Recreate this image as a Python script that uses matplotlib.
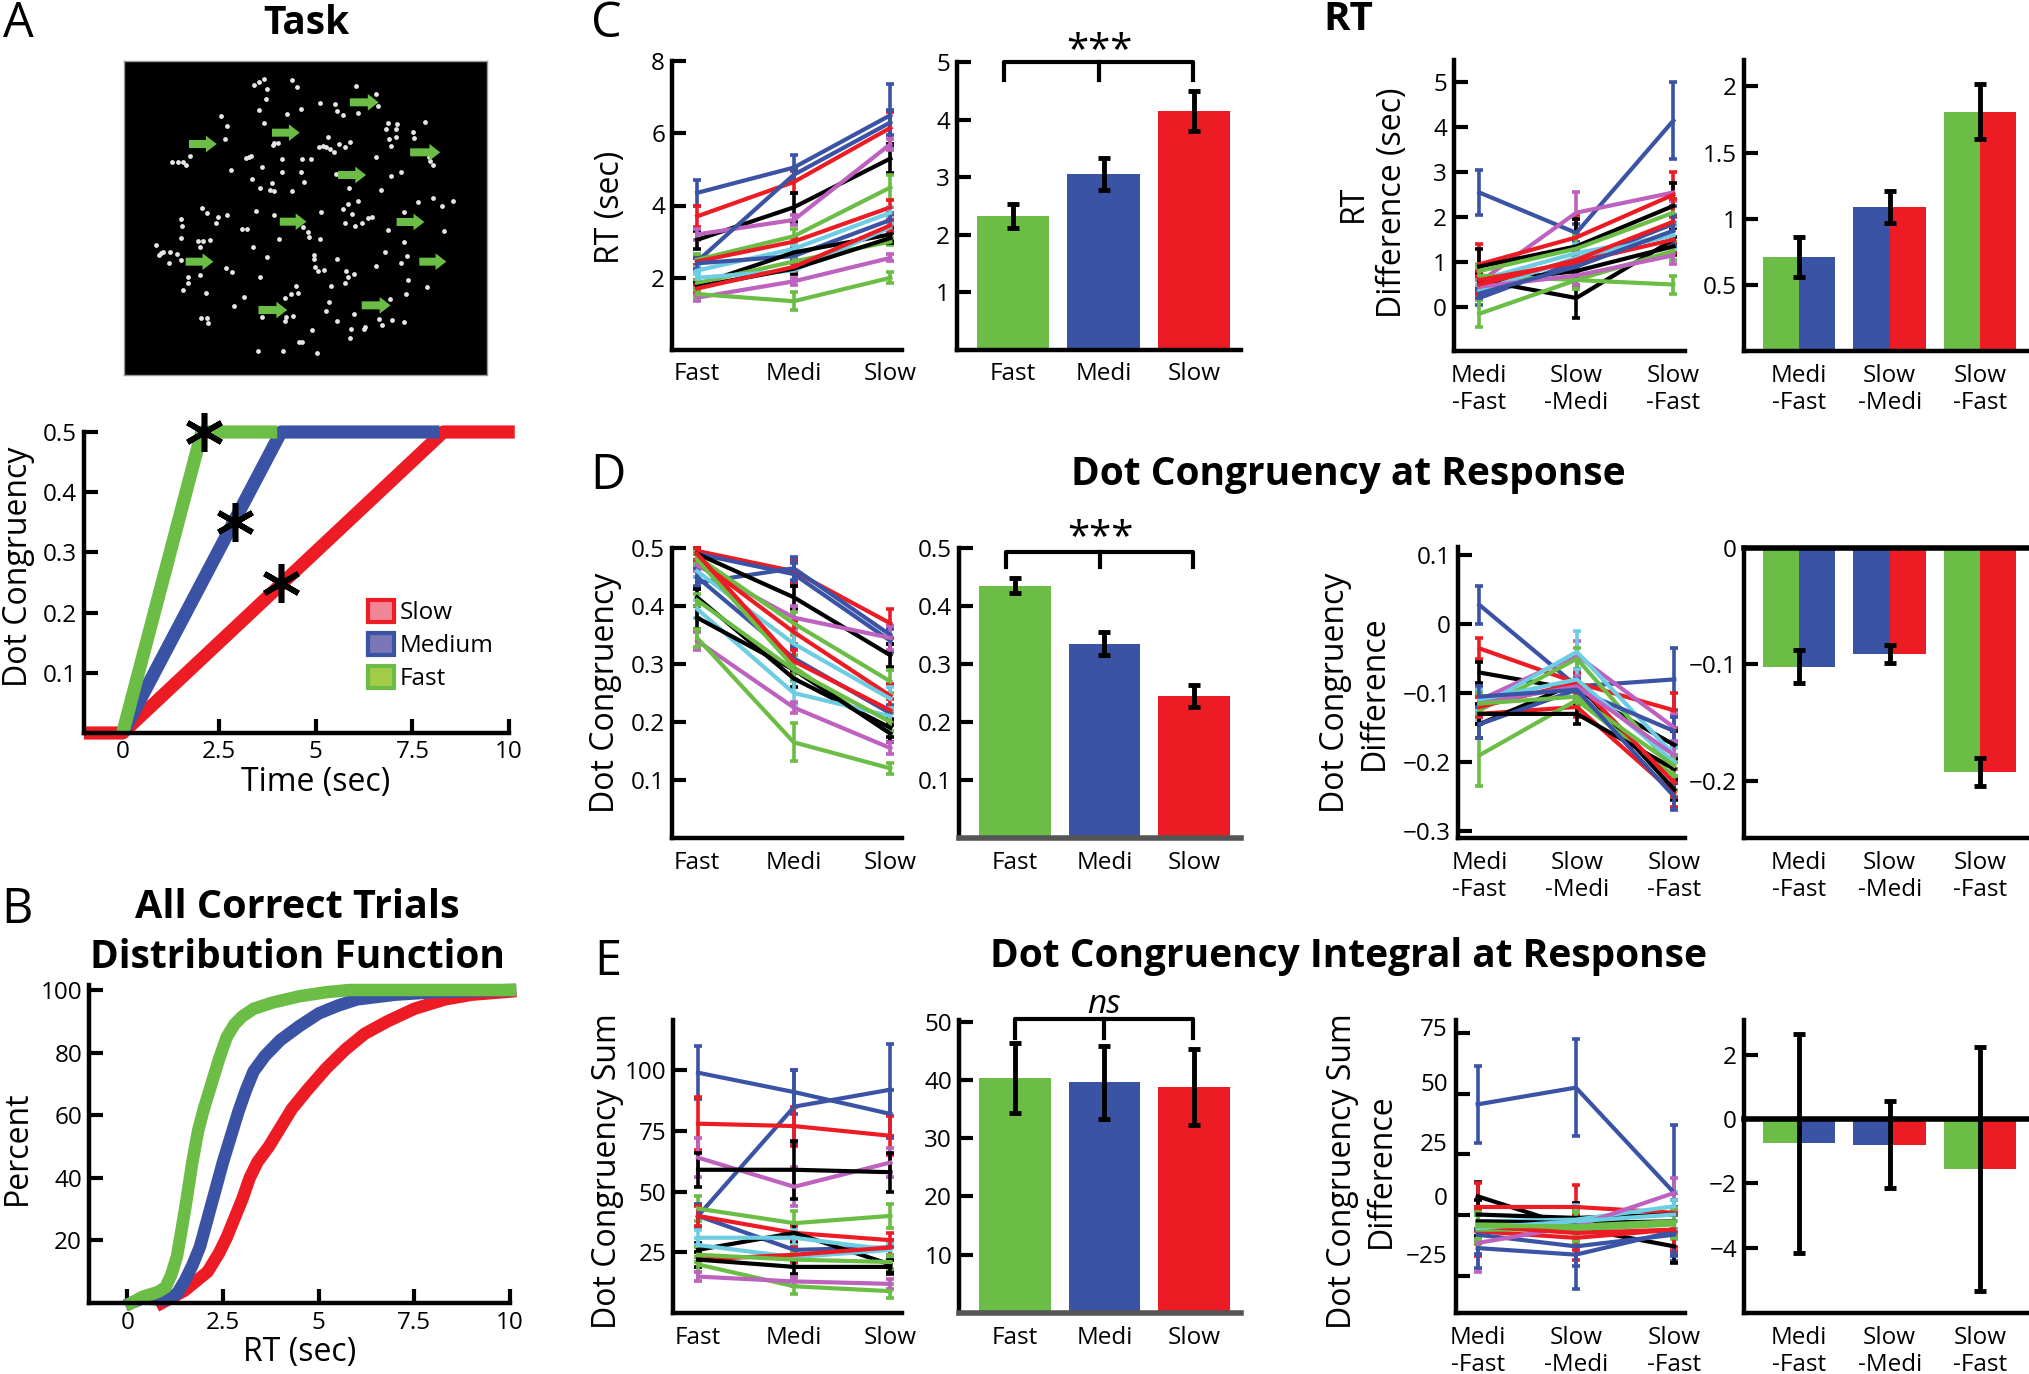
import numpy as np
import matplotlib.pyplot as plt
from matplotlib.patches import Patch

plt.rcParams['font.family'] = ['Open Sans', 'DejaVu Sans']

W, H = 2029, 1374

# === COLORES ===
GREEN = '#6bbd45'
BLUE = '#3a53a4'
RED = '#ed1c24'
MAG = '#bd62be'
CYAN = '#6dcde3'
BLACK = '#000000'
cmap = {'g': GREEN, 'b': BLUE, 'r': RED, 'm': MAG, 'c': CYAN, 'k': BLACK}

# === DATOS ===
cond_labels = ['Fast', 'Medi', 'Slow']
diff_labels = ['Medi\n-Fast', 'Slow\n-Medi', 'Slow\n-Fast']

# task picture (image coordinates)
dot_x = [752, 768, 780, 790, 865, 880, 787, 1052, 1113, 1117, 946, 991, 998, 1014, 1058, 890, 766, 850, 780, 654,
         672, 667, 1149, 1173, 1141, 1170, 1150, 1172, 1157, 1222, 1223, 1256, 971, 1003, 1034, 1021, 945, 956, 965,
         975, 987, 811, 808, 822, 736, 742, 728, 563, 510, 527, 541, 552, 836, 894, 920, 1112, 1268, 1272, 1280, 685,
         776, 835, 890, 993, 1185, 1157, 745, 805, 900, 771, 798, 812, 863, 1032, 1126, 1280, 1235, 1307, 1340, 1058,
         1030, 1016, 1042, 1194, 1148, 1313, 597, 614, 647, 671, 639, 536, 540, 537, 757, 810, 949, 1022, 1049, 1072,
         1088, 1101, 716, 730, 896, 910, 915, 946, 826, 588, 600, 623, 462, 478, 484, 505, 525, 472, 500, 537, 592,
         748, 1196, 1138, 1203, 1185, 790, 930, 928, 932, 940, 958, 998, 1113, 670, 688, 558, 591, 770, 1025, 1048,
         1030, 1022, 542, 557, 609, 722, 877, 860, 882, 842, 980, 1207, 1200, 1262, 694, 973, 965, 1048, 1153, 777,
         845, 867, 842, 594, 614, 616, 996, 1037, 1080, 1077, 1122, 1130, 1160, 1194, 924, 1034, 885, 895, 764, 838,
         938]
dot_y = [256, 247, 238, 267, 240, 262, 296, 257, 283, 318, 310, 313, 332, 346, 340, 328, 329, 342, 368, 348,
         378, 418, 368, 371, 387, 387, 418, 412, 438, 396, 415, 367, 411, 432, 425, 441, 440, 437, 440,
         446, 456, 430, 435, 428, 470, 468, 475, 468, 487, 487, 487, 494, 478, 478, 478, 472, 470, 483, 494, 510,
         500, 515, 517, 523, 516, 528, 537, 550, 546, 563, 571, 573, 573, 565, 570, 593, 607, 617, 603, 603,
         612, 626, 642, 637, 690, 692, 625, 640, 650, 644, 670, 656, 678, 713, 632, 645, 635, 670, 678, 670,
         655, 650, 686, 686, 681, 695, 710, 717, 718, 722, 722, 720, 736, 760, 755, 755, 762, 765, 789, 780, 742,
         742, 727, 757, 769, 788, 770, 766, 776, 800, 812, 810, 778, 797, 803, 815, 830, 825, 830, 812, 822,
         832, 848, 871, 850, 880, 891, 858, 882, 880, 895, 858, 840, 882, 860, 917, 905, 932, 941, 898, 951,
         950, 948, 962, 955, 955, 968, 962, 988, 980, 988, 958, 975, 960, 967, 990, 1015, 1027, 1027, 1052, 1053,
         1058]
arrow_x = [560, 805, 1035, 1213, 1000, 828, 1173, 550, 1240, 765, 1070]
arrow_y = [432, 398, 307, 457, 525, 665, 666, 785, 785, 930, 916]
arrow_len = [82, 82, 85, 89, 83, 79, 82, 82, 80, 85, 85]

# dot congruency over time
slow_t = [-1, 0, 8.3, 10.15]
slow_c = [0, 0, 0.5, 0.5]
med_t = [0, 4.1, 8.2]
med_c = [0, 0.5, 0.5]
fast_t = [0, 2.05, 4.0]
fast_c = [0, 0.5, 0.5]
star_t = [2.1, 2.9, 4.1]
star_c = [0.5, 0.35, 0.25]

# cumulative distribution of RT
cdf_fast_x = [0.1, 0.4, 0.8, 1.0, 1.15, 1.3, 1.4, 1.55, 1.7, 1.85, 2.0, 2.2, 2.4, 2.6, 2.8, 3.0, 3.3, 3.8, 4.5, 5.2, 5.8, 10]
cdf_fast_y = [0, 2, 3.5, 5, 9, 15, 22, 33, 45, 55, 62, 70, 78, 85, 89, 91.5, 94, 96, 98, 99.3, 100, 100]
cdf_med_x = [0.1, 0.4, 1.0, 1.3, 1.5, 1.7, 1.9, 2.1, 2.3, 2.5, 2.7, 2.9, 3.1, 3.3, 3.6, 4.0, 4.5, 5.0, 5.5, 6.0, 7.0, 8.0, 10]
cdf_med_y = [0, 1.5, 1, 3, 7, 12, 18, 27, 36, 45, 53, 61, 68, 74, 79, 84, 88.5, 92.5, 95, 97, 98.5, 99.3, 100]
cdf_slow_x = [0.9, 1.2, 1.5, 1.8, 2.1, 2.4, 2.6, 2.8, 3.0, 3.2, 3.4, 3.7, 4.0, 4.3, 4.7, 5.2, 5.7, 6.2, 6.8, 7.5, 8.3, 9.0, 10]
cdf_slow_y = [0, 2, 4, 7, 10, 16, 21, 27, 33, 40, 45, 50, 56, 62, 68, 75, 81, 86, 90, 94, 97, 98.5, 99.5]

# RT por sujeto
rt_cols = 'brkmbgrcbkgckrmg'
rt_vals = [[4.35, 5.05, 6.5], [3.7, 4.65, 6.15], [3.05, 3.95, 5.3], [3.2, 3.6, 5.7], [2.45, 4.85, 6.3],
           [2.5, 3.15, 4.5], [2.45, 3.0, 3.95], [2.2, 2.8, 3.8], [2.4, 2.6, 3.6], [1.8, 2.7, 3.2],
           [1.85, 2.45, 3.0], [2.0, 2.2, 3.4], [1.75, 2.25, 3.1], [1.7, 2.3, 3.45], [1.45, 1.9, 2.55],
           [1.55, 1.35, 2.0]]
rt_err = [[0.35, 0.35, 0.85], [0.3, 0.3, 0.45], [0.25, 0.4, 0.4], [0.15, 0.15, 0.15], [0.15, 0.15, 0.35],
          [0.15, 0.2, 0.35], [0.1, 0.1, 0.2], [0.1, 0.1, 0.15], [0.15, 0.1, 0.2], [0.15, 0.1, 0.15],
          [0.1, 0.15, 0.1], [0.15, 0.1, 0.1], [0.1, 0.15, 0.15], [0.1, 0.1, 0.15], [0.08, 0.1, 0.1],
          [0.1, 0.25, 0.15]]
rt_mean = [2.33, 3.05, 4.15]
rt_sem = [0.21, 0.28, 0.35]

rtd_cols = 'bmrkgcbkkggrcmrb'
rtd_vals = [[2.55, 1.65, 4.15], [0.55, 2.1, 2.55], [0.95, 1.55, 2.5], [0.9, 1.35, 2.25], [0.8, 1.3, 2.1],
            [0.6, 1.2, 1.6], [0.2, 1.0, 1.85], [0.55, 0.8, 1.35], [0.6, 0.2, 1.5], [-0.15, 0.6, 1.25],
            [0.7, 0.6, 0.5], [0.6, 1.0, 1.5], [0.35, 1.1, 1.6], [0.45, 0.7, 1.15], [0.5, 1.05, 1.9],
            [0.3, 0.9, 1.7]]
rtd_err = [[0.5, 0.2, 0.85], [0.2, 0.45, 0.2], [0.45, 0.5, 0.5], [0.4, 0.6, 0.5], [0.15, 0.3, 0.3],
           [0.2, 0.2, 0.3], [0.15, 0.2, 0.4], [0.15, 0.3, 0.2], [0.15, 0.45, 0.3], [0.3, 0.2, 0.2],
           [0.2, 0.2, 0.2], [0.2, 0.2, 0.3], [0.15, 0.2, 0.2], [0.15, 0.2, 0.2], [0.2, 0.25, 0.5],
           [0.1, 0.2, 0.35]]
rtd_mean = [0.71, 1.09, 1.81]
rtd_sem = [0.15, 0.12, 0.21]

# dot congruency at response
dc_cols = 'rbbkmgrcbgrkckmgg'
dc_vals = [[0.495, 0.46, 0.37], [0.44, 0.465, 0.35], [0.49, 0.455, 0.34], [0.49, 0.415, 0.315],
           [0.47, 0.38, 0.345], [0.485, 0.37, 0.27], [0.48, 0.355, 0.245], [0.46, 0.335, 0.24],
           [0.45, 0.31, 0.215], [0.48, 0.295, 0.18], [0.49, 0.305, 0.22], [0.415, 0.275, 0.19],
           [0.395, 0.25, 0.21], [0.38, 0.29, 0.18], [0.34, 0.225, 0.155], [0.345, 0.165, 0.12],
           [0.41, 0.29, 0.2]]
dc_err = [[0.005, 0.02, 0.025], [0.01, 0.02, 0.015], [0.01, 0.02, 0.02], [0.01, 0.02, 0.02],
          [0.01, 0.02, 0.02], [0.01, 0.02, 0.02], [0.01, 0.02, 0.02], [0.01, 0.02, 0.02],
          [0.015, 0.02, 0.015], [0.01, 0.02, 0.015], [0.01, 0.02, 0.02], [0.015, 0.015, 0.015],
          [0.015, 0.02, 0.015], [0.02, 0.015, 0.015], [0.015, 0.01, 0.01], [0.015, 0.033, 0.01],
          [0.01, 0.015, 0.015]]
dc_mean = [0.435, 0.335, 0.245]
dc_sem = [0.013, 0.02, 0.019]

dcd_cols = 'brkmcgrkgbkrcmgb'
dcd_vals = [[0.028, -0.09, -0.08], [-0.035, -0.085, -0.125], [-0.07, -0.095, -0.175], [-0.11, -0.045, -0.15],
            [-0.12, -0.04, -0.19], [-0.125, -0.05, -0.21], [-0.13, -0.12, -0.245], [-0.145, -0.085, -0.24],
            [-0.19, -0.11, -0.22], [-0.145, -0.095, -0.155], [-0.13, -0.13, -0.21], [-0.12, -0.085, -0.23],
            [-0.11, -0.08, -0.2], [-0.115, -0.09, -0.19], [-0.115, -0.105, -0.205], [-0.105, -0.095, -0.25]]
dcd_err = [[0.028, 0.02, 0.045], [0.015, 0.02, 0.025], [0.015, 0.02, 0.02], [0.015, 0.02, 0.02],
           [0.02, 0.03, 0.02], [0.02, 0.015, 0.02], [0.015, 0.015, 0.02], [0.02, 0.02, 0.015],
           [0.045, 0.02, 0.02], [0.02, 0.02, 0.02], [0.015, 0.015, 0.02], [0.015, 0.015, 0.02],
           [0.015, 0.015, 0.02], [0.015, 0.015, 0.02], [0.015, 0.015, 0.015], [0.015, 0.015, 0.02]]
dcd_mean = [-0.102, -0.091, -0.192]
dcd_sem = [0.014, 0.008, 0.012]

# dot congruency integral at response
ds_cols = 'bbrmkgbrkccrgkgm'
ds_vals = [[99, 91, 82], [40, 85, 92], [78, 77, 73], [64, 52, 62], [59, 59, 58], [43, 37, 40], [40, 26, 27],
           [40, 33, 30], [26, 33, 20], [31, 31, 26], [28, 23, 26], [22, 24, 27], [24, 22, 21], [22, 19, 19],
           [20, 11, 9], [15, 13, 12]]
ds_err = [[11, 9, 10], [5, 15, 19], [11, 8, 8], [8, 8, 6], [7, 12, 8], [5, 5, 5], [5, 3, 3], [4, 3, 3],
          [3, 4, 3], [3, 3, 3], [3, 3, 3], [3, 3, 3], [3, 3, 3], [3, 3, 3], [3, 3, 3], [2, 2, 2]]
ds_mean = [40.4, 39.6, 38.8]
ds_sem = [6.0, 6.3, 6.5]

dsd_cols = 'bkrkckgrbmbgrcg'
dsd_vals = [[45.6, 52.5, 9.2], [7.8, -5.2, -12.8], [3.4, 3.4, 1.0], [0.3, -1.1, 0.3], [-2.5, -1.8, 3.7],
            [-2.5, -3.2, -2.5], [-3.8, -4.3, -2.5], [-6.6, -9.3, -5.9], [-8, -12.8, -8], [-11.4, -4.5, 9.2],
            [-13.5, -16.2, -6.6], [-5.9, -5.9, -3.8], [-4.5, -7.3, -5.9], [-5.2, -2.5, 0.3], [-4.5, -4.5, -3.2]]
dsd_err = [[15.8, 20, 28], [6, 6, 7], [10, 9, 8], [6, 6, 6], [6, 6, 6], [6, 6, 6], [6, 6, 6], [10, 9, 9],
           [8, 8, 8], [12, 8, 6], [8, 14, 10], [6, 6, 6], [7, 7, 7], [6, 6, 6], [6, 6, 6]]
dsd_mean = [-0.75, -0.8, -1.55]
dsd_sem = [3.4, 1.35, 3.8]

pair_left = [GREEN, BLUE, GREEN]
pair_right = [BLUE, RED, RED]

# === FIGURA ===
fig = plt.figure(figsize=(W / 100, H / 100), dpi=100)


def px_ax(x0, y0, x1, y1):
    return fig.add_axes([x0 / W, 1 - y1 / H, (x1 - x0) / W, (y1 - y0) / H])


def ftext(x, y, s, **kw):
    fig.text(x / W, 1 - y / H, s, **kw)


def style(ax, xlim, ylim, yticks, ylabels, lw=3.2):
    ax.set_xlim(xlim)
    ax.set_ylim(ylim)
    ax.spines[['top', 'right']].set_visible(False)
    for s in ['left', 'bottom']:
        ax.spines[s].set_linewidth(lw)
    ax.set_yticks(yticks, ylabels)
    ax.tick_params(axis='y', direction='in', length=10, width=3, labelsize=17.5, pad=5)
    ax.set_facecolor('none')


def cat_axis(ax, labels):
    ax.set_xticks([1, 2, 3], labels)
    ax.tick_params(axis='x', length=0, pad=9, labelsize=17.5)


def subjects(ax, cols, vals, errs):
    for c, v, e in zip(cols, vals, errs):
        ax.errorbar([1, 2, 3], v, yerr=e, color=cmap[c], lw=3, elinewidth=2.6,
                    capsize=3, capthick=2.6, clip_on=False)


def bracket(ax, x0, xm, x1, y, ytip, ytxt, txt, **kw):
    ax.plot([x0, x0, x1, x1], [ytip, y, y, ytip], color='k', lw=3, clip_on=False)
    ax.plot([xm, xm], [y, ytip], color='k', lw=3, clip_on=False)
    ax.text(xm, ytxt, txt, ha='center', va='center', **kw)


def bar_err(ax, mean, sem):
    ax.errorbar([1, 2, 3], mean, yerr=sem, fmt='none', ecolor='k', elinewidth=3.5,
                capsize=4, capthick=3.5, clip_on=False)


# --- A: task ---
ax = px_ax(124, 61, 487, 375)
ax.set_facecolor('black')
ax.set_xlim(368, 1440)
ax.set_ylim(1125, 183)
ax.set_xticks([])
ax.set_yticks([])
for s in ax.spines.values():
    s.set_color('#999999')
    s.set_linewidth(1)
ax.scatter(dot_x, dot_y, s=12, color='#e6e6e6', linewidths=0)
for x, y, L in zip(arrow_x, arrow_y, arrow_len):
    ax.arrow(x, y, L, 0, width=24, head_width=50, head_length=32,
             length_includes_head=True, color=GREEN, lw=0)

# --- A: dot congruency vs time ---
ax = px_ax(84, 432, 509, 733)
style(ax, (-1, 10), (0, 0.5), [0.1, 0.2, 0.3, 0.4, 0.5], ['0.1', '0.2', '0.3', '0.4', '0.5'])
ax.set_xticks([0, 2.5, 5, 7.5, 10], ['0', '2.5', '5', '7.5', '10'])
ax.tick_params(axis='x', direction='in', length=10, width=3, labelsize=17.5, pad=5)
ax.plot(slow_t, slow_c, color=RED, lw=9.5, solid_capstyle='butt', clip_on=False)
ax.plot(med_t, med_c, color=BLUE, lw=9.5, solid_capstyle='butt', clip_on=False)
ax.plot(fast_t, fast_c, color=GREEN, lw=9.5, solid_capstyle='butt', clip_on=False)
ax.plot(star_t, star_c, ls='none', marker=(6, 2, 0), ms=28, mew=4, color='k', clip_on=False)
handles = [Patch(facecolor='#f08595', edgecolor=RED, lw=3, label='Slow'),
           Patch(facecolor='#7b76b6', edgecolor=BLUE, lw=3, label='Medium'),
           Patch(facecolor='#a3cc48', edgecolor=GREEN, lw=3, label='Fast')]
ax.legend(handles=handles, loc='upper left', bbox_to_anchor=(368 / W, 1 - 600 / H),
          bbox_transform=fig.transFigure, frameon=False, fontsize=17.5, handlelength=1.05,
          handleheight=1.0, handletextpad=0.25, labelspacing=0.32, borderpad=0, borderaxespad=0)
ftext(19, 567, 'Dot Congruency', rotation=90, ha='center', va='center', fontsize=23)
ftext(316, 782, 'Time (sec)', ha='center', va='center', fontsize=23)

# --- B: CDF ---
ax = px_ax(89, 985, 510, 1303)
style(ax, (-1, 10), (0, 101.6), [20, 40, 60, 80, 100], ['20', '40', '60', '80', '100'])
ax.set_xticks([0, 2.5, 5, 7.5, 10], ['0', '2.5', '5', '7.5', '10'])
ax.tick_params(axis='x', direction='in', length=10, width=3, labelsize=17.5, pad=6)
ax.plot(cdf_slow_x, cdf_slow_y, color=RED, lw=9, clip_on=False)
ax.plot(cdf_med_x, cdf_med_y, color=BLUE, lw=9, clip_on=False)
ax.plot(cdf_fast_x, cdf_fast_y, color=GREEN, lw=9, clip_on=False)
ftext(300, 1352, 'RT (sec)', ha='center', va='center', fontsize=23)
ftext(17, 1148, 'Percent', rotation=90, ha='center', va='center', fontsize=23)

# --- C: RT ---
ax = px_ax(672, 61, 902, 350)
style(ax, (0.74, 3.12), (0, 8), [2, 4, 6, 8], ['2', '4', '6', '8'])
cat_axis(ax, cond_labels)
subjects(ax, rt_cols, rt_vals, rt_err)
ftext(610, 207, 'RT (sec)', rotation=90, ha='center', va='center', fontsize=23)

ax = px_ax(957, 62, 1241, 350)
style(ax, (0.38, 3.52), (0, 5), [1, 2, 3, 4, 5], ['1', '2', '3', '4', '5'])
cat_axis(ax, cond_labels)
ax.bar([1, 2, 3], rt_mean, width=0.8, color=[GREEN, BLUE, RED])
bar_err(ax, rt_mean, rt_sem)
bracket(ax, 0.9, 1.95, 2.99, 5.0, 4.69, 5.17, '***', fontsize=29)

ax = px_ax(1454, 60, 1685, 351)
style(ax, (0.74, 3.12), (-0.98, 5.5), [0, 1, 2, 3, 4, 5], ['0', '1', '2', '3', '4', '5'])
cat_axis(ax, diff_labels)
subjects(ax, rtd_cols, rtd_vals, rtd_err)
ftext(1373, 203, 'RT\nDifference (sec)', rotation=90, ha='center', va='center', fontsize=23,
      multialignment='center', linespacing=1.25)

ax = px_ax(1744, 60, 2029, 351)
style(ax, (0.39, 3.54), (0, 2.2), [0.5, 1, 1.5, 2], ['0.5', '1', '1.5', '2'])
cat_axis(ax, diff_labels)
for i in range(3):
    ax.bar(i + 0.8, rtd_mean[i], width=0.4, color=pair_left[i])
    ax.bar(i + 1.2, rtd_mean[i], width=0.4, color=pair_right[i])
bar_err(ax, rtd_mean, rtd_sem)

# --- D: dot congruency ---
ax = px_ax(672, 548, 902, 838)
style(ax, (0.74, 3.12), (0, 0.5), [0.1, 0.2, 0.3, 0.4, 0.5], ['0.1', '0.2', '0.3', '0.4', '0.5'])
cat_axis(ax, cond_labels)
subjects(ax, dc_cols, dc_vals, dc_err)
ftext(605, 693, 'Dot Congruency', rotation=90, ha='center', va='center', fontsize=23)

ax = px_ax(959, 548, 1241, 838)
style(ax, (0.38, 3.52), (0, 0.5), [0.1, 0.2, 0.3, 0.4, 0.5], ['0.1', '0.2', '0.3', '0.4', '0.5'])
ax.spines['bottom'].set_color('#555555')
ax.spines['bottom'].set_linewidth(4)
cat_axis(ax, cond_labels)
ax.bar([1, 2, 3], dc_mean, width=0.8, color=[GREEN, BLUE, RED])
bar_err(ax, dc_mean, dc_sem)
bracket(ax, 0.9, 1.95, 2.99, 0.493, 0.467, 0.515, '***', fontsize=29)

ax = px_ax(1458, 547, 1685, 838)
style(ax, (0.78, 3.11), (-0.31, 0.112), [-0.3, -0.2, -0.1, 0, 0.1],
      ['\u22120.3', '\u22120.2', '\u22120.1', '0', '0.1'])
cat_axis(ax, diff_labels)
subjects(ax, dcd_cols, dcd_vals, dcd_err)
ftext(1355, 693, 'Dot Congruency\nDifference', rotation=90, ha='center', va='center', fontsize=23,
      multialignment='center', linespacing=1.2)

ax = px_ax(1744, 548, 2029, 838)
style(ax, (0.39, 3.54), (-0.249, 0), [-0.2, -0.1, 0], ['\u22120.2', '\u22120.1', '0'])
cat_axis(ax, diff_labels)
for i in range(3):
    ax.bar(i + 0.8, dcd_mean[i], width=0.4, color=pair_left[i])
    ax.bar(i + 1.2, dcd_mean[i], width=0.4, color=pair_right[i])
bar_err(ax, dcd_mean, dcd_sem)
ax.axhline(0, color='k', lw=4, clip_on=False)

# --- E: dot congruency integral ---
ax = px_ax(673, 1020, 902, 1313)
style(ax, (0.74, 3.12), (0, 120.7), [25, 50, 75, 100], ['25', '50', '75', '100'])
cat_axis(ax, cond_labels)
subjects(ax, ds_cols, ds_vals, ds_err)
ftext(607, 1171, 'Dot Congruency Sum', rotation=90, ha='center', va='center', fontsize=23)

ax = px_ax(959, 1020, 1241, 1313)
style(ax, (0.38, 3.52), (0, 50.3), [10, 20, 30, 40, 50], ['10', '20', '30', '40', '50'])
ax.spines['bottom'].set_color('#555555')
ax.spines['bottom'].set_linewidth(4)
cat_axis(ax, cond_labels)
ax.bar([1, 2, 3], ds_mean, width=0.8, color=[GREEN, BLUE, RED])
bar_err(ax, ds_mean, ds_sem)
bracket(ax, 1.0, 1.99, 2.99, 50.4, 47.2, 52.9, 'ns', fontsize=24, style='italic')

ax = px_ax(1456, 1020, 1685, 1313)
style(ax, (0.78, 3.11), (-40.2, 80.3), [75, 50, 25, 0, -25], [''] * 5)
ax.set_yticks([77.5, 54.9, 30.3, 7.8, -16], ['75', '50', '25', '0', '\u221225'], minor=True)
ax.tick_params(axis='y', which='minor', length=0, labelsize=17.5, pad=6)
cat_axis(ax, diff_labels)
subjects(ax, dsd_cols, dsd_vals, dsd_err)
ftext(1362, 1171, 'Dot Congruency Sum\nDifference', rotation=90, ha='center', va='center', fontsize=23,
      multialignment='center', linespacing=1.25)

ax = px_ax(1744, 1020, 2029, 1313)
style(ax, (0.39, 3.54), (-6.03, 3.08), [-4, -2, 0, 2], ['\u22124', '\u22122', '0', '2'])
cat_axis(ax, diff_labels)
for i in range(3):
    ax.bar(i + 0.8, dsd_mean[i], width=0.4, color=pair_left[i])
    ax.bar(i + 1.2, dsd_mean[i], width=0.4, color=pair_right[i])
bar_err(ax, dsd_mean, dsd_sem)
ax.axhline(0, color='k', lw=4, clip_on=False)

# === TITULOS ===
ftext(306, 24, 'Task', ha='center', va='center', fontsize=28, fontweight='bold')
ftext(297, 907, 'All Correct Trials', ha='center', va='center', fontsize=28.5, fontweight='bold')
ftext(297, 958, 'Distribution Function', ha='center', va='center', fontsize=28, fontweight='bold')
ftext(1348, 20, 'RT', ha='center', va='center', fontsize=29, fontweight='bold')
ftext(1348, 475, 'Dot Congruency at Response', ha='center', va='center', fontsize=28, fontweight='bold')
ftext(1348, 957, 'Dot Congruency Integral at Response', ha='center', va='center', fontsize=28,
      fontweight='bold')
for x, y, s in [(18, 24, 'A'), (17, 910, 'B'), (606, 24, 'C'), (608, 476, 'D'), (608, 962, 'E')]:
    ftext(x, y, s, ha='center', va='center', fontsize=35)

fig.savefig('out.png', dpi=100)
